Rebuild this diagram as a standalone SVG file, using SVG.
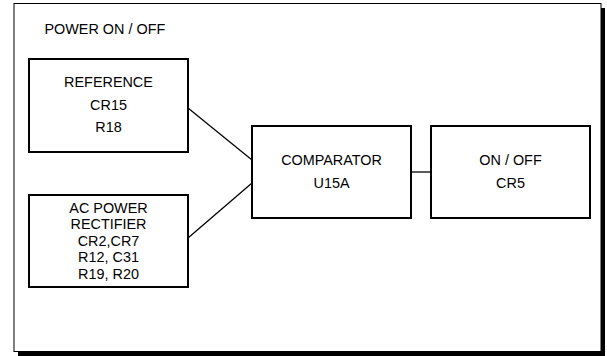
<svg xmlns="http://www.w3.org/2000/svg" width="607" height="356" viewBox="0 0 607 356">
<style>
.box{fill:#fff;stroke:#000;stroke-width:2}
.t{font-family:"Liberation Sans",Arial,sans-serif;font-size:14.4px;fill:#000;text-anchor:middle}
.c{stroke:#000;stroke-width:1.3;fill:none}
</style>
<rect x="18" y="8" width="587" height="348" fill="#000"/>
<rect x="14" y="3.5" width="587" height="348" fill="#fff" stroke="#000" stroke-width="1"/>
<text class="t" x="44.5" y="34" style="text-anchor:start">POWER ON / OFF</text>
<g id="connectors">
<line class="c" x1="188" y1="108" x2="252" y2="160"/>
<line class="c" x1="188" y1="238" x2="252" y2="183"/>
<line class="c" x1="411" y1="172" x2="431" y2="172"/>
</g>
<g id="reference">
<rect class="box" x="29" y="59" width="159" height="93"/>
<text class="t" x="108.5" y="87">REFERENCE</text>
<text class="t" x="108.5" y="110">CR15</text>
<text class="t" x="108.5" y="132">R18</text>
</g>
<g id="rectifier">
<rect class="box" x="29" y="195" width="159" height="92"/>
<text class="t" x="108.5" y="213">AC POWER</text>
<text class="t" x="108.5" y="229">RECTIFIER</text>
<text class="t" x="108.5" y="245.5">CR2,CR7</text>
<text class="t" x="108.5" y="262">R12, C31</text>
<text class="t" x="108.5" y="278.5">R19, R20</text>
</g>
<g id="comparator">
<rect class="box" x="252" y="126" width="159" height="92"/>
<text class="t" x="331.5" y="165">COMPARATOR</text>
<text class="t" x="331.5" y="188">U15A</text>
</g>
<g id="onoff">
<rect class="box" x="431" y="126" width="159" height="92"/>
<text class="t" x="510.5" y="165">ON / OFF</text>
<text class="t" x="510.5" y="188">CR5</text>
</g>
</svg>
